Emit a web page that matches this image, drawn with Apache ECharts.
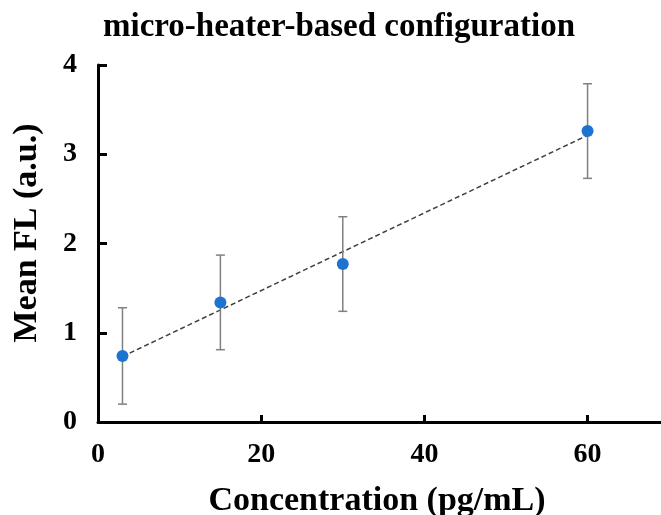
<!DOCTYPE html>
<html>
<head>
<meta charset="utf-8">
<script src="https://cdn.jsdelivr.net/npm/echarts@6/dist/echarts.min.js"></script>
<style>html,body{margin:0;padding:0;background:#fff;}#c{width:661px;height:515px;}</style>
</head>
<body>
<div id="c"></div>
<script>
var concentrations = [3, 15, 30, 60];
var meanFL = [0.74, 1.34, 1.77, 3.26];
var errFL = [0.54, 0.53, 0.53, 0.53];
var xTicks = [0, 20, 40, 60];
var yTicks = [0, 1, 2, 3, 4];

// linear trendline (least squares) derived from data
var n = concentrations.length, mx = 0, my = 0;
for (var i = 0; i < n; i++) { mx += concentrations[i]; my += meanFL[i]; }
mx /= n; my /= n;
var sxx = 0, sxy = 0;
for (var i = 0; i < n; i++) { sxx += (concentrations[i]-mx)*(concentrations[i]-mx); sxy += (concentrations[i]-mx)*(meanFL[i]-my); }
var slope = sxy / sxx, icpt = my - slope * mx;
var xFirst = concentrations[0], xLast = concentrations[n-1];
var trend = [[xFirst, icpt + slope*xFirst], [xLast, icpt + slope*xLast]];

var pts = concentrations.map(function(x, i){ return [x, meanFL[i]]; });
var errData = concentrations.map(function(x, i){ return [x, meanFL[i]-errFL[i], meanFL[i]+errFL[i]]; });

var font = 'Liberation Serif';
var chart = echarts.init(document.getElementById('c'));
chart.setOption({
  animation: false,
  backgroundColor: '#fff',
  title: [
    { text: 'micro-heater-based configuration', left: 334, top: 6, textAlign: 'center',
      textStyle: { fontFamily: font, fontWeight: 'bold', fontSize: 33, color: '#000' } },
    { text: 'Concentration (pg/mL)', left: 372, top: 479, textAlign: 'center',
      textStyle: { fontFamily: font, fontWeight: 'bold', fontSize: 34, color: '#000' } }
  ],
  graphic: [
    { type: 'text', x: 27, y: 233, rotation: Math.PI / 2,
      style: { text: 'Mean FL (a.u.)', fontFamily: font, fontWeight: 'bold', fontSize: 34,
        fill: '#000', textAlign: 'center', textVerticalAlign: 'middle' } }
  ],
  grid: { left: 98, top: 65, right: 0, bottom: 93, containLabel: false },
  xAxis: {
    type: 'value', min: 0, max: 69, interval: 20,
    splitLine: { show: false },
    axisLine: { lineStyle: { color: '#000', width: 3 } },
    axisTick: { inside: true, length: 7, lineStyle: { color: '#000', width: 3 },
      customValues: xTicks.slice(1) },
    axisLabel: { fontFamily: font, fontWeight: 'bold', fontSize: 28, color: '#000', margin: 19,
      customValues: xTicks }
  },
  yAxis: {
    type: 'value', min: 0, max: 4, interval: 1,
    splitLine: { show: false },
    axisLine: { lineStyle: { color: '#000', width: 3 } },
    axisTick: { inside: true, length: 9, lineStyle: { color: '#000', width: 3 }, customValues: yTicks },
    axisLabel: { fontFamily: font, fontWeight: 'bold', fontSize: 28, color: '#000', margin: 21, customValues: yTicks }
  },
  series: [
    { type: 'line', data: trend, symbol: 'none', z: 2,
      lineStyle: { color: '#404040', width: 1.5, type: [5, 3] } },
    { type: 'custom', z: 3, data: errData,
      renderItem: function(params, api){
        var x = api.value(0);
        var lo = api.coord([x, api.value(1)]);
        var hi = api.coord([x, api.value(2)]);
        var cw = 4.5;
        var st = { stroke: '#808080', lineWidth: 1.5 };
        return { type: 'group', children: [
          { type: 'line', shape: { x1: lo[0], y1: lo[1], x2: hi[0], y2: hi[1] }, style: st },
          { type: 'line', shape: { x1: lo[0]-cw, y1: lo[1], x2: lo[0]+cw, y2: lo[1] }, style: st },
          { type: 'line', shape: { x1: hi[0]-cw, y1: hi[1], x2: hi[0]+cw, y2: hi[1] }, style: st }
        ]};
      } },
    { type: 'scatter', data: pts, symbolSize: 12, z: 4,
      itemStyle: { color: '#1c74d0', opacity: 1 } }
  ]
});
</script>
</body>
</html>
